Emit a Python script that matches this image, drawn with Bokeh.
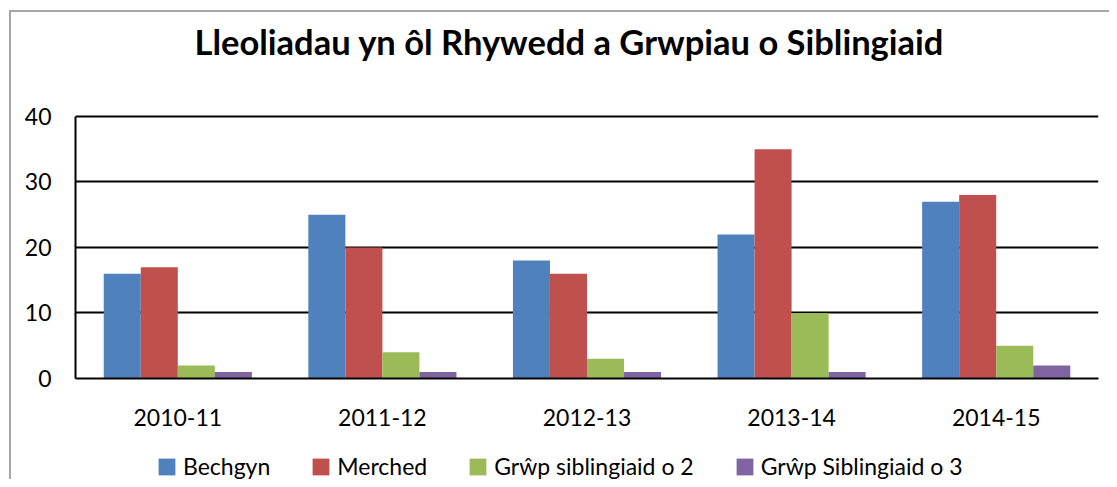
from bokeh.plotting import figure
from bokeh.layouts import column
from bokeh.models import ColumnDataSource, FactorRange, Range1d, Legend, LegendItem, Title
from bokeh.transform import dodge
from bokeh.embed import file_html
from bokeh.resources import INLINE

years = ["2010-11", "2011-12", "2012-13", "2013-14", "2014-15"]
bechgyn = [16, 25, 18, 22, 27]
merched = [17, 20, 16, 35, 28]
grwp2 = [2, 4, 3, 10, 5]
grwp3 = [1, 1, 1, 1, 2]
series_names = ["Bechgyn", "Merched", "Grŵp siblingiaid o 2", "Grŵp Siblingiaid o 3"]
colors = ["#4F81BD", "#C0504D", "#9BBB59", "#8064A2"]
y_ticks = [0, 10, 20, 30, 40]
y_max = 40

FONT = "Lato"
BORDER = "#a6a6a6"

src = ColumnDataSource(dict(years=years, b=bechgyn, m=merched, g2=grwp2, g3=grwp3))

bg = (f"linear-gradient({BORDER},{BORDER}) 9px 10px / 2px 100% no-repeat, "
      f"linear-gradient({BORDER},{BORDER}) 9px 10px / 100% 2px no-repeat, white")

p = figure(
    x_range=FactorRange(*years, range_padding=0),
    y_range=Range1d(0, 47.63),
    width=1109, height=436,
    output_backend="svg", toolbar_location=None,
    min_border_left=75, min_border_right=11, min_border_top=66, min_border_bottom=58,
)
p.outline_line_color = None
p.background_fill_color = None
p.border_fill_color = None

w = 0.181
offsets = [-1.5 * w, -0.5 * w, 0.5 * w, 1.5 * w]
keys = ["b", "m", "g2", "g3"]
for k, off, c in zip(keys, offsets, colors):
    p.vbar(x=dodge("years", off, range=p.x_range), top=k, width=w, source=src,
           fill_color=c, line_color=None)

# axes
p.yaxis.ticker = y_ticks
p.yaxis.bounds = (0, y_max)
p.yaxis.axis_line_color = "black"
p.yaxis.axis_line_width = 2
p.yaxis.major_tick_line_color = None
p.yaxis.minor_tick_line_color = None
p.yaxis.major_tick_out = 0
p.yaxis.major_tick_in = 0
p.yaxis.major_label_text_font = FONT
p.yaxis.major_label_text_font_size = "23px"
p.yaxis.major_label_text_color = "black"
p.yaxis.major_label_text_baseline = "hanging"
p.yaxis.major_label_standoff = 24

p.xaxis.axis_line_color = "black"
p.xaxis.axis_line_width = 2
p.xaxis.major_tick_line_color = None
p.xaxis.minor_tick_line_color = None
p.xaxis.major_tick_out = 0
p.xaxis.major_tick_in = 0
p.xaxis.major_label_text_font = FONT
p.xaxis.major_label_text_font_size = "23px"
p.xaxis.major_label_text_color = "black"
p.xaxis.major_label_standoff = 30

p.xgrid.grid_line_color = None
p.ygrid.grid_line_color = "black"
p.ygrid.grid_line_width = 2

# title
t = Title(text="Lleoliadau yn ôl Rhywedd a Grwpiau o Siblingiaid", align="left",
          text_font=FONT, text_font_style="bold", text_font_size="34.5px",
          text_color="black", offset=119, standoff=10)
p.add_layout(t, "above")

# legend strip (shares the categorical x range; its bars fall below its y range)
lf = figure(width=1109, height=43, x_range=p.x_range, y_range=Range1d(100, 101),
            output_backend="svg", toolbar_location=None,
            x_axis_type=None, y_axis_type=None,
            min_border_left=75, min_border_right=11, min_border_top=0, min_border_bottom=0)
lf.outline_line_color = None
lf.background_fill_color = None
lf.border_fill_color = None
lf.xgrid.visible = False
lf.ygrid.visible = False

legend_renderers = [
    lf.vbar(x=dodge("years", off, range=lf.x_range), top=k, width=w, source=src,
            fill_color=c, line_color=None)
    for k, off, c in zip(keys, offsets, colors)
]

legend = Legend(
    items=[LegendItem(label=n, renderers=[r]) for n, r in zip(series_names, legend_renderers)],
    orientation="horizontal", location=(81, -1),
    label_text_font=FONT, label_text_font_size="23px", label_text_color="black",
    glyph_width=21, glyph_height=21, label_standoff=6, spacing=40,
    padding=0, margin=0, border_line_color=None, background_fill_alpha=0,
    label_height=17,
)
lf.add_layout(legend, "center")

layout = column(p, lf, spacing=0, styles={"background": bg})

open("out.html", "w").write(file_html(layout, INLINE))
